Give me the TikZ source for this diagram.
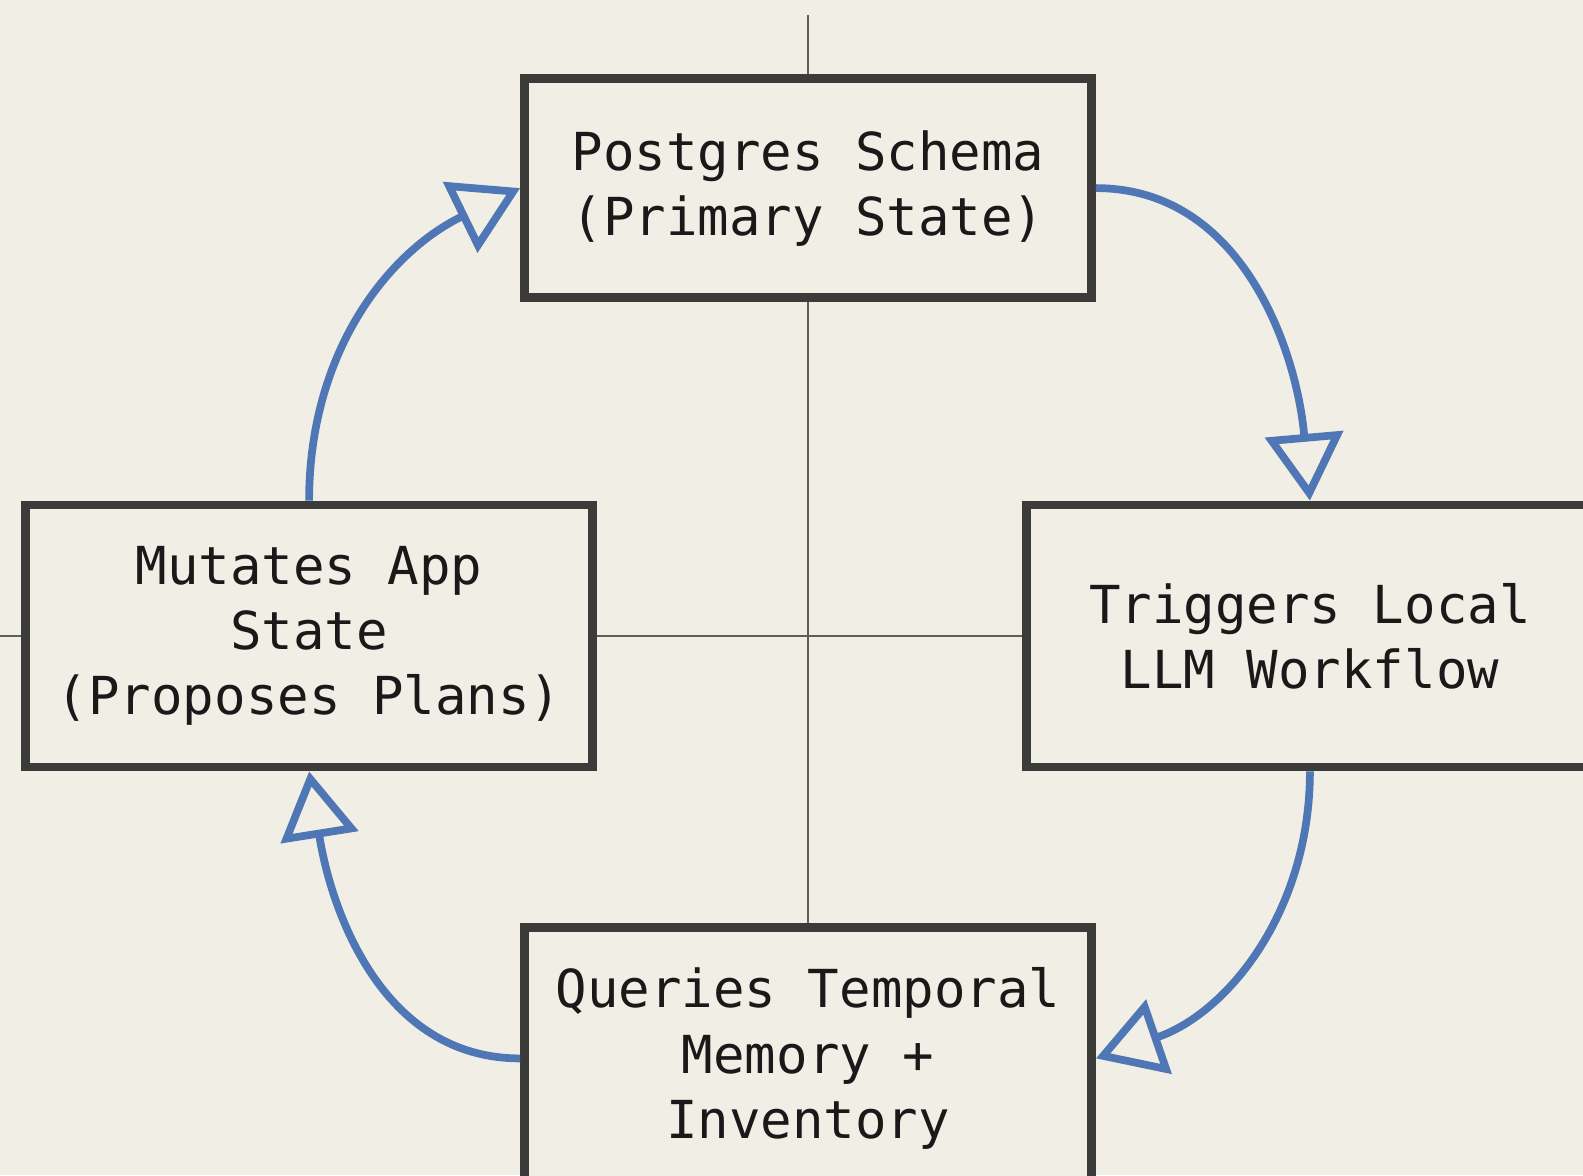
\documentclass[tikz,border=0pt]{standalone}
\usepackage{fontspec}
\usepackage{xcolor}
\usepackage{tikz}
\usetikzlibrary{positioning,arrows.meta}
\newfontfamily\boxfont{DejaVu Sans Mono}
\definecolor{paper}{HTML}{F1EEE5}
\definecolor{frame}{HTML}{3B3B39}
\definecolor{flowblue}{HTML}{4F77B5}
\definecolor{axisgray}{HTML}{5E5E5C}

\begin{document}
\begin{tikzpicture}[
    box/.style={draw=frame, line width=2.5pt, fill=paper, text=black!90, align=center,
      minimum width=5.67cm, minimum height=2.62cm, inner sep=0pt,
      font={\boxfont\fontsize{14.9}{18.5}\selectfont}},
    flow/.style={color=flowblue, line width=2.2pt, -{Triangle[open, length=19pt, width=22pt]}},
    axis/.style={draw=axisgray, line width=0.7pt}]
        \fill[paper] (0,0) rectangle (15.83,-11.75);
        \useasboundingbox (0,0) rectangle (15.83,-11.75);
        \coordinate (hub) at (8.08,-6.36);
        \coordinate (axtop) at (8.08,-0.15);
        \coordinate (axleft) at (0,-6.36);

        \node[box, minimum height=2.19cm] (schema) [above = 3.34cm of hub] {Postgres Schema\\(Primary State)};
        \node[box] (mutates) [left = 2.11cm of hub] {Mutates App\\State\\(Proposes Plans)};
        \node[box] (llm) [right = 2.14cm of hub] {Triggers Local\\LLM Workflow};
        \node[box] (queries) [below = 2.87cm of hub] {Queries Temporal\\Memory +\\Inventory};

        \draw[axis]
          (axtop) -- (schema.north)
          (schema.south) -- (queries.north)
          (axleft) -- (mutates.west)
          (mutates.east) -- (llm.west);

        \path[flow]
          (schema.east) edge[out=0, in=95] (llm.north)
          (llm.south) edge[out=-90, in=19] (queries.east)
          (queries.west) edge[out=180, in=-81] (mutates.south)
          (mutates.north) edge[out=90, in=206] (schema.west);
\end{tikzpicture}
\end{document}
